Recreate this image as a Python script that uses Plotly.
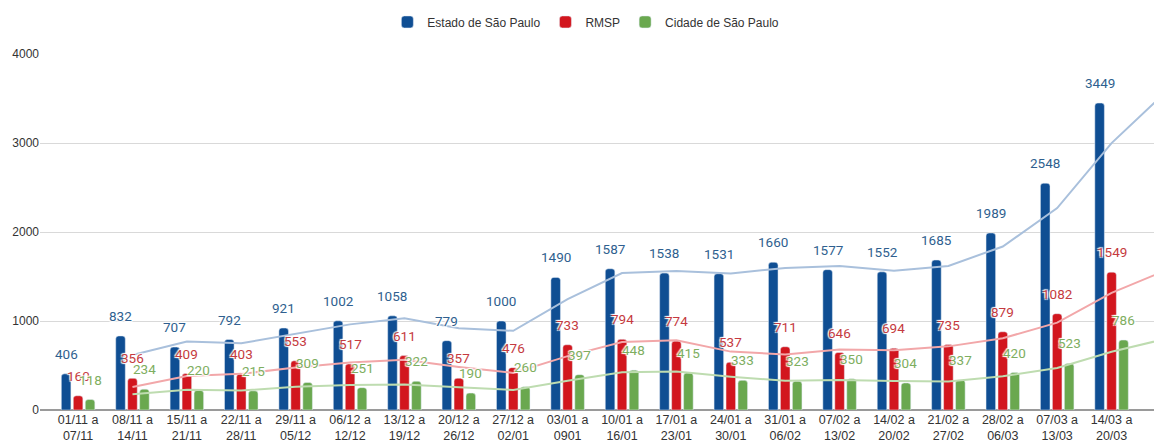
import plotly.graph_objects as go

# ----------------------------------------------------
# Data
# ----------------------------------------------------

weeks = [
    "01/11 a<br>07/11", "08/11 a<br>14/11", "15/11 a<br>21/11", "22/11 a<br>28/11",
    "29/11 a<br>05/12", "06/12 a<br>12/12", "13/12 a<br>19/12", "20/12 a<br>26/12",
    "27/12 a<br>02/01", "03/01 a<br>0901", "10/01 a<br>16/01", "17/01 a<br>23/01",
    "24/01 a<br>30/01", "31/01 a<br>06/02", "07/02 a<br>13/02", "14/02 a<br>20/02",
    "21/02 a<br>27/02", "28/02 a<br>06/03", "07/03 a<br>13/03", "14/03 a<br>20/03",
]

estado = [406, 832, 707, 792, 921, 1002, 1058, 779, 1000, 1490,
          1587, 1538, 1531, 1660, 1577, 1552, 1685, 1989, 2548, 3449]
rmsp = [160, 356, 409, 403, 553, 517, 611, 357, 476, 733,
        794, 774, 537, 711, 646, 694, 735, 879, 1082, 1549]
cidade = [118, 234, 220, 215, 309, 251, 322, 190, 260, 397,
          448, 415, 333, 323, 350, 304, 337, 420, 523, 786]

# trend lines, starting at the 2nd week, running past the last one
estado_trend = [619, 770, 750, 857, 962, 1030, 919, 890, 1245, 1539,
                1563, 1535, 1596, 1619, 1565, 1619, 1837, 2269, 2999, 3575]
rmsp_trend = [258, 383, 406, 478, 535, 564, 484, 417, 605, 764,
              784, 656, 624, 679, 670, 715, 807, 981, 1316, 1570]
cidade_trend = [176, 227, 218, 262, 280, 287, 256, 225, 329, 423,
                432, 374, 328, 337, 327, 321, 379, 472, 655, 800]

# ----------------------------------------------------
# Figure
# ----------------------------------------------------

x = list(range(len(weeks)))
x_trend = list(range(1, len(weeks) + 1))

bargap = 0.34
series = [
    ("Estado de São Paulo", estado, estado_trend, "#0f4e93", "#a9c0dc", "#2f5f8f"),
    ("RMSP", rmsp, rmsp_trend, "#d2161e", "#f2a7a9", "#c53a40"),
    ("Cidade de São Paulo", cidade, cidade_trend, "#6aa84f", "#bedcb0", "#7eae60"),
]

fig = go.Figure()

for name, vals, _, color, _, _ in series:
    fig.add_trace(
        go.Bar(
            x=x,
            y=vals,
            name=name,
            marker=dict(color=color, cornerradius=3),
            hoverinfo="skip",
        )
    )

for name, _, trend, _, line_color, _ in series:
    fig.add_trace(
        go.Scatter(
            x=x_trend,
            y=trend,
            mode="lines",
            line=dict(color=line_color, width=2),
            showlegend=False,
            hoverinfo="skip",
        )
    )

halo = "1px 1px 1px white, -1px -1px 1px white, 1px -1px 1px white, -1px 1px 1px white"
slot = (1 - bargap) / 3
annotations = []
for k, (name, vals, _, _, _, label_color) in enumerate(series):
    for i, v in enumerate(vals):
        annotations.append(
            dict(
                x=i + (k - 1) * slot,
                y=v,
                yshift=20,
                text=str(v),
                showarrow=False,
                font=dict(family="Roboto", size=13.5, color=label_color, shadow=halo),
            )
        )

fig.update_layout(
    width=1154,
    height=447,
    margin=dict(l=40, r=0, t=54, b=37),
    paper_bgcolor="white",
    plot_bgcolor="white",
    barmode="group",
    bargap=bargap,
    bargroupgap=0.2,
    annotations=annotations,
    legend=dict(
        orientation="h",
        x=0.49,
        xanchor="center",
        y=1.09,
        yanchor="middle",
        itemwidth=30,
        font=dict(family="Liberation Sans", size=12, color="#333333"),
    ),
    xaxis=dict(
        range=[-0.7, 19.78],
        tickvals=x,
        ticktext=weeks,
        tickfont=dict(family="Liberation Sans", size=12.5, color="#333333"),
        showgrid=False,
        showline=False,
        ticks="",
    ),
    yaxis=dict(
        range=[0, 4000],
        tickvals=[0, 1000, 2000, 3000, 4000],
        tickfont=dict(family="Liberation Sans", size=12, color="#333333"),
        gridcolor="#d9d9d9",
        gridwidth=1,
        zeroline=True,
        zerolinecolor="#9a9a9a",
        zerolinewidth=1.5,
        ticks="",
    ),
)

fig.write_html(
    "out.html",
    config={"displayModeBar": False},
    post_script="document.body.style.margin='0';",
)
